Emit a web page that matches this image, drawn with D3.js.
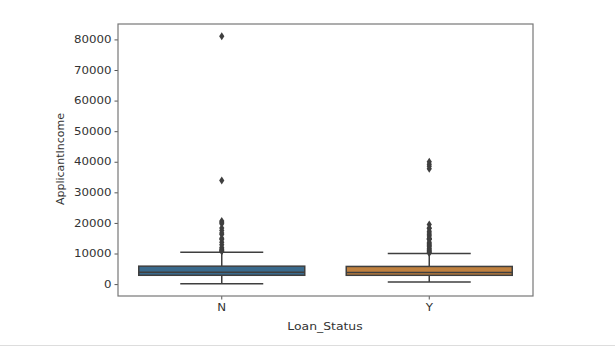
<!DOCTYPE html>
<html>
<head>
<meta charset="utf-8">
<script src="https://cdn.jsdelivr.net/npm/d3@7"></script>
<style>
  body { margin: 0; background: #fff; }
  text { font-family: "DejaVu Sans", sans-serif; fill: #333; }
</style>
</head>
<body>
<div id="chart"></div>
<script>
// Box plot of ApplicantIncome by Loan_Status
var categories = ["N", "Y"];
var q1 = [2885, 2877];
var medians = [3833, 3812];
var q3 = [5861, 5771];
var whiskerLow = [150, 645];
var whiskerHigh = [10408, 10000];
var outliers = [
  [81000, 33846, 20667, 20233, 19730, 18333, 17500, 16667, 16250, 15000, 14583, 13650, 12876, 12000, 11500, 11146, 10833, 10750],
  [39999, 39147, 38500, 37719, 19484, 18333, 18165, 17263, 16692, 16120, 15759, 15000, 14880, 14683, 14583, 13650, 13262, 12841, 12500, 12173, 11757, 11417, 11000, 10750, 10408, 10171]
];
var yTicks = [0, 10000, 20000, 30000, 40000, 50000, 60000, 70000, 80000];
var colors = ["#3a6a8c", "#c0813f"];

var width = 615, height = 348;
var plotLeft = 118, plotRight = 533, plotTop = 24, plotBottom = 296;
var stretch = 1.18; // the reference text is a bit wider than plain DejaVu

var svg = d3.select("#chart").append("svg")
    .attr("width", width)
    .attr("height", height);

var x = d3.scaleBand()
    .domain(categories)
    .range([plotLeft, plotRight]);

var y = d3.scaleLinear()
    .domain([-3892, 85042])
    .range([plotBottom, plotTop]);

function widen(sel) {
  sel.each(function() {
    var w = this.getComputedTextLength();
    d3.select(this).attr("textLength", w * stretch).attr("lengthAdjust", "spacingAndGlyphs");
  });
}

// axes
var yAxis = svg.append("g")
    .attr("transform", "translate(" + plotLeft + ",0)")
    .call(d3.axisLeft(y).tickValues(yTicks).tickSize(3.5).tickPadding(3).tickFormat(d3.format("d")));
yAxis.select(".domain").remove();
yAxis.selectAll("line").attr("stroke", "#555");
yAxis.selectAll("text").style("font-size", "10px").attr("fill", "#333").call(widen);

var xAxis = svg.append("g")
    .attr("transform", "translate(0," + plotBottom + ")")
    .call(d3.axisBottom(x).tickSize(3.5).tickPadding(4));
xAxis.select(".domain").remove();
xAxis.selectAll("line").attr("stroke", "#555");
xAxis.selectAll("text").style("font-size", "10px").attr("fill", "#333").call(widen);

var boxW = x.bandwidth() * 0.8;
var lineColor = "#3f3f3f";

categories.forEach(function(c, i) {
  var cx = x(c) + x.bandwidth() / 2;
  var g = svg.append("g");
  // whiskers
  g.append("line").attr("x1", cx).attr("x2", cx)
    .attr("y1", y(q3[i])).attr("y2", y(whiskerHigh[i]))
    .attr("stroke", lineColor).attr("stroke-width", 1.5);
  g.append("line").attr("x1", cx).attr("x2", cx)
    .attr("y1", y(q1[i])).attr("y2", y(whiskerLow[i]))
    .attr("stroke", lineColor).attr("stroke-width", 1.5);
  // caps
  [whiskerHigh[i], whiskerLow[i]].forEach(function(v) {
    g.append("line").attr("x1", cx - boxW / 4).attr("x2", cx + boxW / 4)
      .attr("y1", y(v)).attr("y2", y(v))
      .attr("stroke", lineColor).attr("stroke-width", 1.5);
  });
  // box
  g.append("rect")
    .attr("x", cx - boxW / 2)
    .attr("y", y(q3[i]))
    .attr("width", boxW)
    .attr("height", y(q1[i]) - y(q3[i]))
    .attr("fill", colors[i])
    .attr("stroke", lineColor).attr("stroke-width", 1.5);
  // median
  g.append("line").attr("x1", cx - boxW / 2).attr("x2", cx + boxW / 2)
    .attr("y1", y(medians[i])).attr("y2", y(medians[i]))
    .attr("stroke", lineColor).attr("stroke-width", 1.5);
  // outliers
  g.selectAll("path.flier")
    .data(outliers[i])
    .enter().append("path")
    .attr("class", "flier")
    .attr("transform", function(d) { return "translate(" + cx + "," + y(d) + ")"; })
    .attr("d", "M0,-4L2.6,0L0,4L-2.6,0Z")
    .attr("fill", lineColor);
});

// frame
svg.append("rect")
    .attr("x", plotLeft).attr("y", plotTop)
    .attr("width", plotRight - plotLeft).attr("height", plotBottom - plotTop)
    .attr("fill", "none").attr("stroke", "#777").attr("stroke-width", 1.2);

// labels
svg.append("text")
    .attr("transform", "translate(64,159) rotate(-90)")
    .attr("text-anchor", "middle")
    .style("font-size", "11px")
    .text("ApplicantIncome");

svg.append("text")
    .attr("x", 325)
    .attr("y", 330)
    .attr("text-anchor", "middle")
    .style("font-size", "10.5px")
    .text("Loan_Status")
    .call(widen);

// faint line at bottom of the screenshot
svg.append("line")
    .attr("x1", 0).attr("x2", width)
    .attr("y1", 345.5).attr("y2", 345.5)
    .attr("stroke", "#ddd");
</script>
</body>
</html>
